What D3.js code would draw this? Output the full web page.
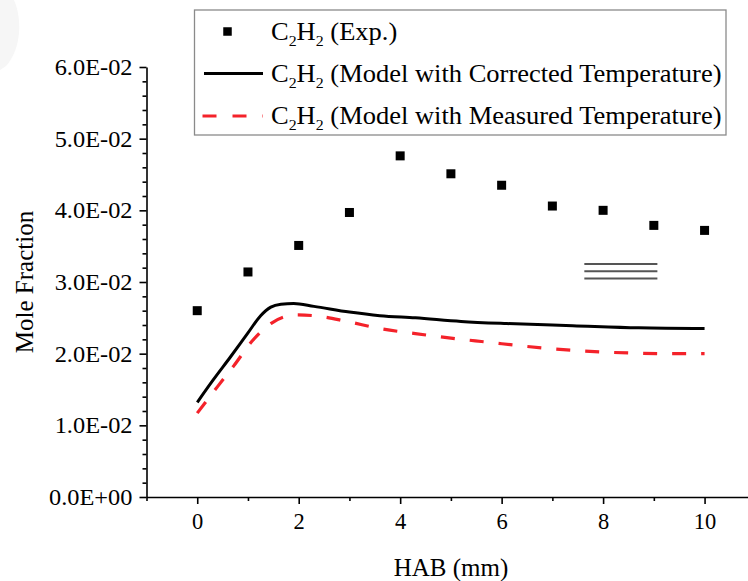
<!DOCTYPE html>
<html>
<head>
<meta charset="utf-8">
<script src="https://cdn.jsdelivr.net/npm/d3@7"></script>
<style>
  html, body { margin: 0; padding: 0; background: #fff; }
  svg { display: block; font-family: "Liberation Serif", "Times New Roman", serif; }
</style>
</head>
<body>
<svg id="chart" width="748" height="581"></svg>
<script>
// Experimental C2H2 mole fraction by height above burner (mm)
const expHAB = [0, 1, 2, 3, 4, 5, 6, 7, 8, 9, 10];
const expMole = [0.0260, 0.0314, 0.0351, 0.0397, 0.0476, 0.0451, 0.0435, 0.0406, 0.0400, 0.0379, 0.0372];

// Model with corrected temperature profile
const corrHAB = [0, 0.3, 0.65, 1.0, 1.25, 1.45, 1.65, 1.9, 2.3, 3.0, 3.6, 4.3, 5.2, 6.1, 7.4, 8.7, 10];
const corrMole = [0.0132, 0.0162, 0.0195, 0.0229, 0.0253, 0.0265, 0.0269, 0.0270, 0.0266, 0.0258, 0.0253, 0.0250, 0.0245, 0.0242, 0.0239, 0.0236, 0.0235];

// Model with measured temperature profile
const measHAB = [0, 0.4, 0.72, 1.1, 1.45, 1.7, 1.97, 2.3, 2.95, 3.6, 4.3, 5.2, 5.6, 6.8, 8.1, 9.4, 10];
const measMole = [0.0117, 0.0154, 0.0183, 0.0219, 0.0242, 0.0251, 0.0254, 0.0253, 0.0245, 0.0235, 0.0228, 0.0220, 0.0217, 0.0208, 0.0202, 0.0200, 0.0200];

// Axis ticks
const xMajorTicks = [0, 2, 4, 6, 8, 10];
const xMinorTicks = [-1, 1, 3, 5, 7, 9];
const yMajorTicks = [0, 0.01, 0.02, 0.03, 0.04, 0.05, 0.06];
const yMinorTicks = d3.range(0, 0.0601, 0.002).map(v => +v.toFixed(3)).filter(v => Math.round(v * 1000) % 10 !== 0);

// Short horizontal marker lines drawn inside the plot
const markLevels = [0.0325, 0.0315, 0.0305];
const markSpan = [7.63, 9.07];

const legendItems = [
  { label: " (Exp.)", type: "square" },
  { label: " (Model with Corrected Temperature)", type: "solid" },
  { label: " (Model with Measured Temperature)", type: "dash" }
];

const svg = d3.select("#chart");

const x = d3.scaleLinear().domain([-1, 11]).range([146.5, 755.3]);
const y = d3.scaleLinear().domain([0, 0.06]).range([497, 67]);

function sci(v) {
  if (v === 0) return "0.0E+00";
  const e = Math.floor(Math.log10(v) + 1e-9);
  const m = v / Math.pow(10, e);
  const sign = e < 0 ? "-" : "+";
  return m.toFixed(1) + "E" + sign + String(Math.abs(e)).padStart(2, "0");
}

// faint shading in the top-left corner
svg.append("path")
  .attr("d", "M0,0 L14,0 C22,18 22,48 6,66 L0,70 Z")
  .attr("fill", "#f6f6f6");

// Y axis
const yAxis = svg.append("g").attr("transform", `translate(${x(-1)},0)`)
  .call(d3.axisLeft(y).tickValues(yMajorTicks).tickFormat(sci).tickSize(7).tickSizeOuter(0).tickPadding(7));
yAxis.select(".domain").attr("stroke-width", 1.6);
yAxis.selectAll(".tick line").attr("stroke-width", 1.6);
yAxis.selectAll("text").each(function () {
  const t = d3.select(this);
  const tx = +t.attr("x");
  t.attr("x", 0).attr("transform", `translate(${tx},0) scale(1.06,1)`)
    .attr("font-size", 23).attr("fill", "#000").attr("font-family", "Liberation Serif");
});
svg.append("g").attr("transform", `translate(${x(-1)},0)`)
  .call(d3.axisLeft(y).tickValues(yMinorTicks).tickFormat("").tickSize(4).tickSizeOuter(0))
  .call(g => g.select(".domain").remove())
  .selectAll("line").attr("stroke-width", 1.6);

// X axis
const xAxis = svg.append("g").attr("transform", `translate(0,${y(0)})`)
  .call(d3.axisBottom(x).tickValues(xMajorTicks).tickSize(7).tickSizeOuter(0).tickPadding(9));
xAxis.select(".domain").attr("stroke-width", 1.6);
xAxis.selectAll(".tick line").attr("stroke-width", 1.6);
xAxis.selectAll("text").attr("font-size", 22.5).attr("fill", "#000").attr("font-family", "Liberation Serif");
svg.append("g").attr("transform", `translate(0,${y(0)})`)
  .call(d3.axisBottom(x).tickValues(xMinorTicks).tickFormat("").tickSize(4).tickSizeOuter(0))
  .call(g => g.select(".domain").remove())
  .selectAll("line").attr("stroke-width", 1.6);

// Axis titles
svg.append("text")
  .attr("x", 451).attr("y", 576)
  .attr("text-anchor", "middle").attr("font-size", 25)
  .text("HAB (mm)");
svg.append("text")
  .attr("transform", `translate(33,${(y(0) + y(0.06)) / 2}) rotate(-90)`)
  .attr("text-anchor", "middle").attr("font-size", 25)
  .text("Mole Fraction");

// Model curves
const line = d3.line().x(d => x(d[0])).y(d => y(d[1])).curve(d3.curveMonotoneX);
svg.append("path")
  .datum(d3.zip(corrHAB, corrMole))
  .attr("d", line)
  .attr("fill", "none").attr("stroke", "#000").attr("stroke-width", 3);
svg.append("path")
  .datum(d3.zip(measHAB, measMole))
  .attr("d", line)
  .attr("fill", "none").attr("stroke", "#f4222a").attr("stroke-width", 3.2)
  .attr("stroke-dasharray", "14,15");

// Experimental points
const sq = 9;
svg.append("g").selectAll("rect")
  .data(d3.zip(expHAB, expMole))
  .join("rect")
  .attr("x", d => x(d[0]) - sq / 2).attr("y", d => y(d[1]) - sq / 2)
  .attr("width", sq).attr("height", sq).attr("fill", "#000");

// Short gray lines
svg.append("g").selectAll("line")
  .data(markLevels)
  .join("line")
  .attr("x1", x(markSpan[0])).attr("x2", x(markSpan[1]))
  .attr("y1", d => y(d)).attr("y2", d => y(d))
  .attr("stroke", "#555").attr("stroke-width", 2);

// Legend
const lg = svg.append("g");
lg.append("rect")
  .attr("x", 194.5).attr("y", 10).attr("width", 531.5).attr("height", 125)
  .attr("fill", "#fff").attr("stroke", "#8a8a8a").attr("stroke-width", 1.3);
const rowY = [31.5, 73.5, 116];
legendItems.forEach((it, i) => {
  const cy = rowY[i];
  if (it.type === "square") {
    lg.append("rect").attr("x", 227.5 - 4.25).attr("y", cy - 4.25).attr("width", 8.5).attr("height", 8.5).attr("fill", "#000");
  } else if (it.type === "solid") {
    lg.append("line").attr("x1", 204).attr("x2", 263).attr("y1", cy).attr("y2", cy)
      .attr("stroke", "#000").attr("stroke-width", 3);
  } else {
    lg.append("line").attr("x1", 202.5).attr("x2", 263).attr("y1", cy).attr("y2", cy)
      .attr("stroke", "#f4222a").attr("stroke-width", 3.2).attr("stroke-dasharray", "14,16");
  }
  const t = lg.append("text")
    .attr("transform", `translate(271,${cy + 8}) scale(1.06,1)`)
    .attr("font-size", 25).attr("fill", "#000");
  t.append("tspan").text("C");
  t.append("tspan").attr("font-size", 15).attr("dy", 6).text("2");
  t.append("tspan").attr("dy", -6).text("H");
  t.append("tspan").attr("font-size", 15).attr("dy", 6).text("2");
  t.append("tspan").attr("dy", -6).text(it.label);
});
</script>
</body>
</html>
